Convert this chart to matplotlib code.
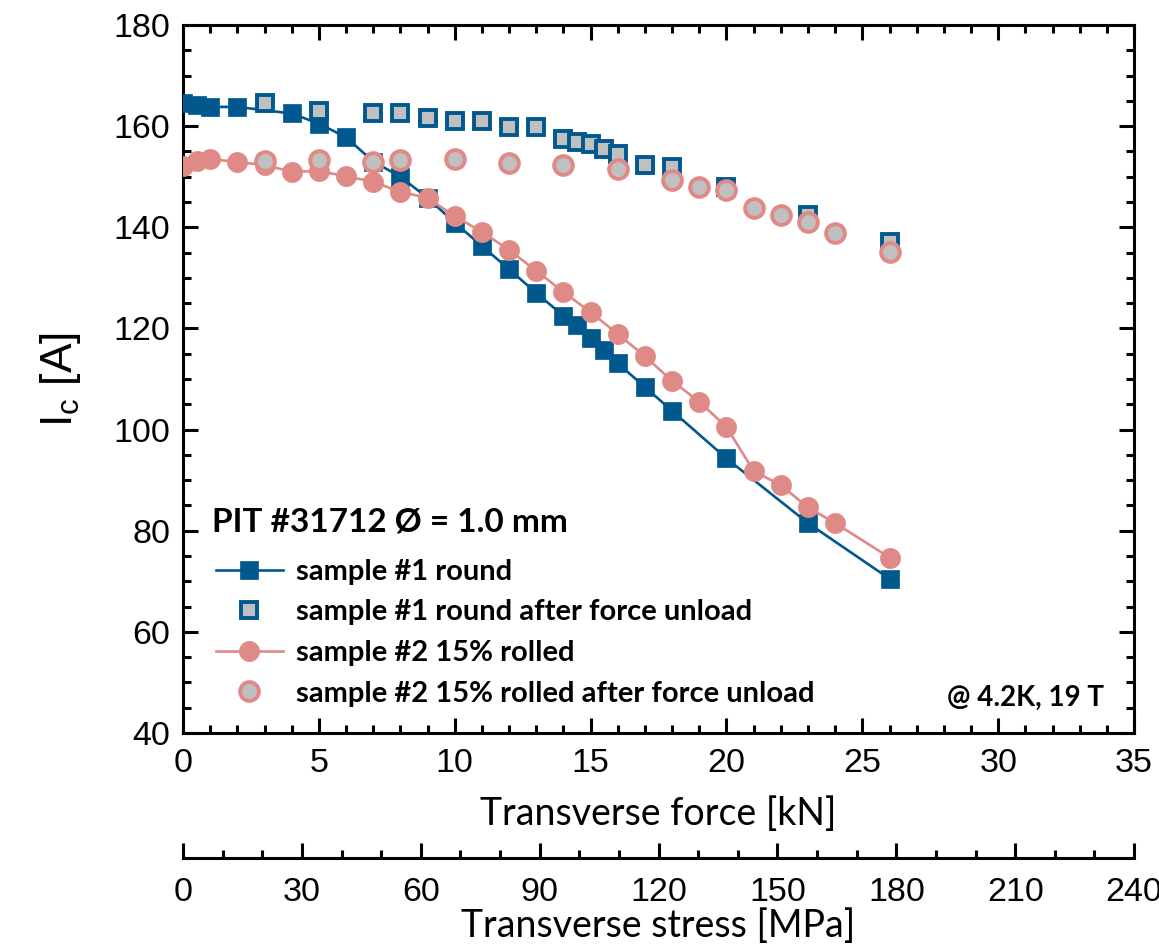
import numpy as np
import matplotlib
matplotlib.use('Agg')
import matplotlib.pyplot as plt
from matplotlib.ticker import MultipleLocator

plt.rcParams['font.family'] = ['Liberation Sans', 'DejaVu Sans']
plt.rcParams['mathtext.default'] = 'regular'

# sample #1 round, under load
f1 = [0, 0.5, 1, 2, 4, 5, 6, 7, 8, 9, 10, 11, 12, 13, 14, 14.5, 15, 15.5, 16, 17, 18, 20, 23, 26]
ic1 = [164.5, 164.2, 163.8, 163.8, 162.5, 160.5, 157.8, 153.0, 150.0, 145.8, 140.9, 136.3, 131.7,
       127.0, 122.5, 120.7, 118.1, 115.7, 113.1, 108.4, 103.7, 94.3, 81.5, 70.5]
# sample #1 round, after force unload
f1u = [3, 5, 7, 8, 9, 10, 11, 12, 13, 14, 14.5, 15, 15.5, 16, 17, 18, 20, 23, 26]
ic1u = [164.6, 162.9, 162.6, 162.6, 161.7, 161.0, 161.1, 159.8, 159.8, 157.5, 156.9, 156.5,
        155.5, 154.5, 152.3, 151.9, 148.0, 142.4, 137.0]
# sample #2 15% rolled, under load
f2 = [0, 0.5, 1, 2, 3, 4, 5, 6, 7, 8, 9, 10, 11, 12, 13, 14, 15, 16, 17, 18, 19, 20, 21, 22, 23, 24, 26]
ic2 = [152.2, 153.1, 153.5, 152.9, 152.3, 151.0, 151.1, 150.1, 149.0, 147.0, 145.8, 142.2, 139.1,
       135.5, 131.4, 127.2, 123.2, 118.9, 114.5, 109.6, 105.5, 100.5, 91.8, 89.0, 84.6, 81.5, 74.7]
# sample #2 15% rolled, after force unload
f2u = [3, 5, 7, 8, 10, 12, 14, 16, 18, 19, 20, 21, 22, 23, 24, 26]
ic2u = [153.1, 153.3, 152.9, 153.3, 153.5, 152.8, 152.3, 151.5, 149.4, 148.0, 147.4, 143.8,
        142.4, 141.0, 138.9, 135.2]

blue = '#00588f'
pink = '#e08a88'
grey = '#c0c0c0'
bold_font = ['Lato', 'DejaVu Sans']

fig = plt.figure(figsize=(11.59, 9.47), dpi=100)
ax = fig.add_axes([0.1579, 0.2260, 0.8206, 0.7476])

ax.plot(f1, ic1, '-s', color=blue, lw=1.9, ms=13, mec=blue, mew=0.5,
        label='sample #1 round', zorder=3)
ax.plot(f1u, ic1u, 's', color=grey, ms=12, mec=blue, mew=2.8,
        label='sample #1 round after force unload', zorder=4)
ax.plot(f2, ic2, '-o', color=pink, lw=1.9, ms=14.5, mec=pink, mew=0.5,
        label='sample #2 15% rolled', zorder=5)
ax.plot(f2u, ic2u, 'o', color=grey, ms=13.5, mec=pink, mew=2.8,
        label='sample #2 15% rolled after force unload', zorder=6)

ax.set_xlim(0, 35)
ax.set_ylim(40, 180)
ax.xaxis.set_major_locator(MultipleLocator(5))
ax.xaxis.set_minor_locator(MultipleLocator(1))
ax.yaxis.set_major_locator(MultipleLocator(20))
ax.yaxis.set_minor_locator(MultipleLocator(5))
ax.tick_params(which='both', direction='in', top=True, right=True, width=2.2,
               labelsize=24.5, color='black')
ax.tick_params(axis='x', pad=11)
ax.tick_params(axis='y', pad=9)
ax.tick_params(which='major', length=11)
ax.tick_params(which='minor', length=5.5)
for s in ax.spines.values():
    s.set_linewidth(2.2)

ax.set_xlabel('Transverse force [kN]', family=bold_font, fontsize=27, labelpad=12)
ax.set_ylabel('I$_c$ [A]', fontsize=32, labelpad=22)

# legend title as own text, legend below it
ax.text(0.0305, 0.298, 'PIT #31712 Ø = 1.0 mm', transform=ax.transAxes, ha='left', va='center',
        family=bold_font, weight='bold', fontsize=24)
leg = ax.legend(loc='lower left', bbox_to_anchor=(0.0127, 0.0085), frameon=False,
                handlelength=2.3, handletextpad=0.45, labelspacing=0.5, borderpad=0.2,
                prop={'family': bold_font, 'weight': 'bold', 'size': 21})

ax.text(0.968, 0.049, '@ 4.2K, 19 T', transform=ax.transAxes, ha='right', va='center',
        family=bold_font, weight='bold', fontsize=20)

# second axis: transverse stress
ax2 = fig.add_axes([0.1579, 0.0940, 0.8206, 0.02])
ax2.set_xlim(0, 240)
ax2.set_yticks([])
for k in ['top', 'left', 'right']:
    ax2.spines[k].set_visible(False)
ax2.spines['bottom'].set_linewidth(2.2)
ax2.patch.set_visible(False)
ax2.xaxis.set_major_locator(MultipleLocator(30))
ax2.xaxis.set_minor_locator(MultipleLocator(10))
ax2.tick_params(which='both', direction='in', width=2.2, labelsize=24.5, pad=14)
ax2.tick_params(which='major', length=11)
ax2.tick_params(which='minor', length=5.5)
ax2.set_xlabel('Transverse stress [MPa]', family=bold_font, fontsize=27, labelpad=0)

fig.savefig('out.png', dpi=100)
